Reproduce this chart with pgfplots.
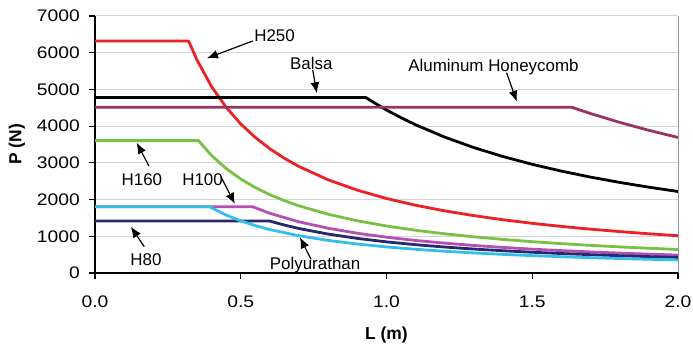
\documentclass[border=0pt]{standalone}
\usepackage{pgfplots}
\pgfplotsset{compat=1.18}
\usepackage{pgfplotstable}
\usetikzlibrary{arrows.meta}
\usepackage{fontspec}
\setmainfont{Liberation Sans}
\newfontfamily\tickfont[FakeStretch=1.15]{Liberation Sans}

\definecolor{cRed}{RGB}{237,32,36}
\definecolor{cAlu}{RGB}{153,51,102}
\definecolor{cGreen}{RGB}{122,193,67}
\definecolor{cMag}{RGB}{180,80,180}
\definecolor{cNavy}{RGB}{40,40,110}
\definecolor{cCyan}{RGB}{51,190,235}
\definecolor{cGrid}{RGB}{212,212,212}
\definecolor{cBorder}{RGB}{150,150,150}

\pgfplotstableread{
L P
0 6320
0.321 6320
0.35 5800
0.40 5075
0.45 4511
0.50 4060
0.55 3691
0.60 3383
0.65 3123
0.70 2900
0.80 2538
0.90 2256
1.00 2030
1.10 1845
1.20 1692
1.30 1562
1.40 1450
1.50 1353
1.60 1269
1.70 1194
1.80 1128
1.90 1068
2.00 1015
}\hTwoFifty

\pgfplotstableread{
L P
0 4780
0.929 4780
0.95 4674
1.00 4440
1.05 4229
1.10 4036
1.20 3700
1.30 3415
1.40 3171
1.50 2960
1.60 2775
1.70 2612
1.80 2467
1.90 2337
2.00 2220
}\balsa

\pgfplotstableread{
L P
0 4515
1.635 4515
1.70 4343
1.80 4102
1.90 3886
2.00 3692
}\alu

\pgfplotstableread{
L P
0 3605
0.355 3605
0.40 3200
0.45 2844
0.50 2560
0.55 2327
0.60 2133
0.65 1969
0.70 1829
0.80 1600
0.90 1422
1.00 1280
1.10 1164
1.20 1067
1.30 985
1.40 914
1.50 853
1.60 800
1.70 753
1.80 711
1.90 674
2.00 640
}\hOneSixty

\pgfplotstableread{
L P
0 1807
0.54 1807
0.60 1625
0.70 1393
0.80 1219
0.90 1083
1.00 975
1.10 886
1.20 813
1.30 750
1.40 696
1.50 650
1.60 609
1.70 574
1.80 542
1.90 513
2.00 488
}\hOneHundred

\pgfplotstableread{
L P
0 1417
0.598 1417
0.65 1305
0.70 1211
0.80 1060
0.90 942
1.00 848
1.10 771
1.20 707
1.30 652
1.40 606
1.50 565
1.60 530
1.70 499
1.80 471
1.90 446
2.00 424
}\hEighty

\pgfplotstableread{
L P
0 1805
0.393 1805
0.45 1578
0.50 1420
0.55 1291
0.60 1183
0.70 1014
0.80 888
0.90 789
1.00 710
1.10 645
1.20 592
1.30 546
1.40 507
1.50 473
1.60 444
1.70 418
1.80 394
1.90 374
2.00 355
}\poly

\begin{document}
\begin{tikzpicture}
\path[use as bounding box] (0,0) rectangle (693bp,347bp);
\begin{axis}[
  at={(95bp,74bp)}, anchor=south west,
  scale only axis, width=583bp, height=257bp,
  xmin=0, xmax=2, ymin=0, ymax=7000,
  axis lines=left,
  axis line style={-, black, line width=1.5bp},
  xtick={0,0.5,1,1.5,2},
  ytick={0,1000,2000,3000,4000,5000,6000,7000},
  tick align=outside,
  major tick length=6bp,
  tick style={black, line width=1.2bp},
  ymajorgrids,
  grid style={cGrid, line width=1bp},
  /pgf/number format/assume math mode=true,
  xticklabel style={/pgf/number format/.cd, fixed, fixed zerofill, precision=1, /tikz/.cd, font=\fontsize{16.8}{20}\tickfont, anchor=north, inner sep=0pt, yshift=-17bp},
  yticklabel style={/pgf/number format/.cd, 1000 sep={}, /tikz/.cd, font=\fontsize{16.8}{20}\tickfont, anchor=east, inner sep=0pt, xshift=-9bp},
  xlabel={L (m)},
  ylabel={P (N)},
  xlabel style={at={(axis description cs:0.5,-0.2412)}, anchor=center, font=\fontsize{17.5}{20}\selectfont\bfseries},
  ylabel style={at={(axis description cs:-0.1338,0.5)}, anchor=center, font=\fontsize{17.5}{20}\selectfont\bfseries},
  every axis plot/.append style={no marks, line width=2.8bp, line join=round},
  clip=false,
]
\addplot[cRed] table[x=L,y=P]{\hTwoFifty};
\addplot[black] table[x=L,y=P]{\balsa};
\addplot[cAlu] table[x=L,y=P]{\alu};
\addplot[cGreen] table[x=L,y=P]{\hOneSixty};
\addplot[cMag] table[x=L,y=P]{\hOneHundred};
\addplot[cNavy] table[x=L,y=P]{\hEighty};
\addplot[cCyan] table[x=L,y=P]{\poly};

\draw[cBorder, line width=1bp] (rel axis cs:1,0) -- (rel axis cs:1,1);

\tikzset{ann/.style={font=\fontsize{17}{20}\selectfont, inner sep=0pt},
         arr/.style={-{Latex[length=11bp,width=9bp]}, line width=1.2bp, black}}
\node[ann] at (axis cs:0.616,6464) {H250};
\draw[arr] (axis cs:0.541,6320) -- (axis cs:0.384,5849);
\node[ann] at (axis cs:0.742,5712) {Balsa};
\draw[arr] (axis cs:0.747,5530) -- (axis cs:0.761,4895);
\node[ann] at (axis cs:1.367,5620) {Aluminum Honeycomb};
\draw[arr] (axis cs:1.412,5456) -- (axis cs:1.447,4666);
\node[ann] at (axis cs:0.161,2552) {H160};
\draw[arr] (axis cs:0.185,2915) -- (axis cs:0.143,3549);
\node[ann] at (axis cs:0.369,2552) {H100};
\draw[arr] (axis cs:0.432,2623) -- (axis cs:0.480,1880);
\node[ann] at (axis cs:0.175,373) {H80};
\draw[arr] (axis cs:0.169,716) -- (axis cs:0.123,1261);
\node[ann] at (axis cs:0.755,218) {Polyurathan};
\draw[arr] (axis cs:0.741,373) -- (axis cs:0.703,973);
\end{axis}
\end{tikzpicture}
\end{document}
